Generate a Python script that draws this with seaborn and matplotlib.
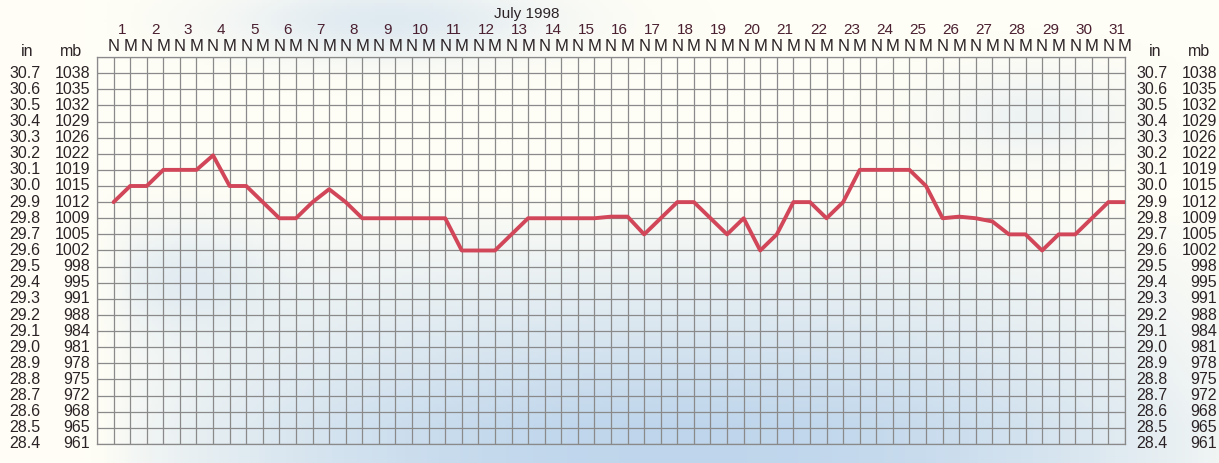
import numpy as np
import pandas as pd
import seaborn as sns
import matplotlib.pyplot as plt
import matplotlib.transforms as mtransforms

# barometer readings, July 1998, noon (N) and midnight (M) for each day
days = list(range(1, 32))
half_days = ['N', 'M'] * 31
pressure_in = [
    29.90, 30.00, 30.00, 30.10, 30.10, 30.10, 30.19, 30.00, 30.00, 29.90,  # 1N-5M
    29.80, 29.80, 29.90, 29.98, 29.90, 29.80, 29.80, 29.80, 29.80, 29.80,  # 6N-10M
    29.80, 29.60, 29.60, 29.60, 29.70, 29.80, 29.80, 29.80, 29.80, 29.80,  # 11N-15M
    29.81, 29.81, 29.70, 29.80, 29.90, 29.90, 29.80, 29.70, 29.80, 29.60,  # 16N-20M
    29.70, 29.90, 29.90, 29.80, 29.90, 30.10, 30.10, 30.10, 30.10, 30.00,  # 21N-25M
    29.80, 29.81, 29.80, 29.78, 29.70, 29.70, 29.60, 29.70, 29.70, 29.80,  # 26N-30M
    29.90, 29.90,                                                          # 31N-31M
]
in_labels = ['30.7', '30.6', '30.5', '30.4', '30.3', '30.2', '30.1', '30.0',
             '29.9', '29.8', '29.7', '29.6', '29.5', '29.4', '29.3', '29.2',
             '29.1', '29.0', '28.9', '28.8', '28.7', '28.6', '28.5', '28.4']
mb_labels = ['1038', '1035', '1032', '1029', '1026', '1022', '1019', '1015',
             '1012', '1009', '1005', '1002', '998', '995', '991', '988',
             '984', '981', '978', '975', '972', '968', '965', '961']
title = 'July 1998'

df = pd.DataFrame({'step': np.arange(len(pressure_in)), 'pressure': pressure_in})

sns.set_theme(style='white')
plt.rcParams['font.family'] = ['Liberation Sans', 'DejaVu Sans']

fig = plt.figure(figsize=(12.19, 4.63), dpi=100)

# sky-like background behind the whole chart
bg = fig.add_axes([0, 0, 1, 1], zorder=-1)
H, W = 150, 400
v, u = np.mgrid[0:1:H * 1j, 0:1:W * 1j]
t = 0.9 * np.clip((v - 0.42) / 0.5, 0, 1) * np.clip(1 - ((u - 0.56) / 0.5) ** 2, 0, 1)
t += 0.45 * np.exp(-((u - 0.32) / 0.13) ** 2 - ((v - 0.04) / 0.08) ** 2)
t += 0.25 * np.exp(-((u - 0.85) / 0.08) ** 2 - ((v - 0.25) / 0.1) ** 2)
t += 0.3 * np.exp(-((u - 0.15) / 0.07) ** 2 - ((v - 0.6) / 0.12) ** 2)
t *= np.clip((u - 0.07) / 0.04, 0, 1)
t = np.clip(t, 0, 1)[..., None]
base = np.array([1.0, 0.995, 0.965])
blue = np.array([0.72, 0.82, 0.92])
img = base * (1 - t) + blue * t
bg.imshow(img, aspect='auto', extent=[0, 1, 0, 1], origin='upper')
bg.axis('off')

ax = fig.add_axes([97 / 1219, 1 - 444 / 463, 1028 / 1219, 387 / 463])
ax.set_facecolor('none')

sns.lineplot(data=df, x='step', y='pressure', ax=ax, color='#d24659',
             linewidth=2.8, solid_joinstyle='round', zorder=3)

ax.set_xlim(-1, 61)
ax.set_ylim(28.4, 30.8)
ax.set_xticks(np.arange(-1, 62))
ax.set_yticks(np.round(np.arange(28.4, 30.81, 0.1), 1))
ax.grid(True, color='#8a8a8a', linewidth=0.9)
ax.tick_params(length=0, labelleft=False, labelbottom=False)
ax.set_xlabel('')
ax.set_ylabel('')
for s in ax.spines.values():
    s.set_color('#8a8a8a')
    s.set_linewidth(0.9)

txt = dict(fontsize=11.5, color='#2b2326')

# N / M labels and day numbers
top = mtransforms.blended_transform_factory(ax.transData, ax.transAxes)
for i, lab in enumerate(half_days):
    ax.text(i, 1.027, lab, transform=top, ha='center', va='center',
            fontsize=12, color='#2b2326')
for d in days:
    ax.text(2 * (d - 1) + 0.5, 1.07, str(d), transform=top, ha='center',
            va='center', fontsize=11, color='#4a2030')
ax.text(24.9, 1.112, title, transform=top, ha='center', va='center',
        fontsize=11, color='#2b2326')

# left and right scale labels (inches and millibars)
fig_y = mtransforms.blended_transform_factory(fig.transFigure, ax.transData)
for lab_in, lab_mb in zip(in_labels, mb_labels):
    yv = float(lab_in)
    ax.text(9 / 1219, yv, lab_in, transform=fig_y, ha='left', va='center', **txt)
    ax.text(90 / 1219, yv, lab_mb, transform=fig_y, ha='right', va='center', **txt)
    ax.text(1136 / 1219, yv, lab_in, transform=fig_y, ha='left', va='center', **txt)
    ax.text(1217 / 1219, yv, lab_mb, transform=fig_y, ha='right', va='center', **txt)
for x, lab in [(27, 'in'), (71, 'mb'), (1155, 'in'), (1199, 'mb')]:
    fig.text(x / 1219, 1 - 51 / 463, lab, ha='center', va='center', **txt)

fig.savefig('out.png', dpi=100)
